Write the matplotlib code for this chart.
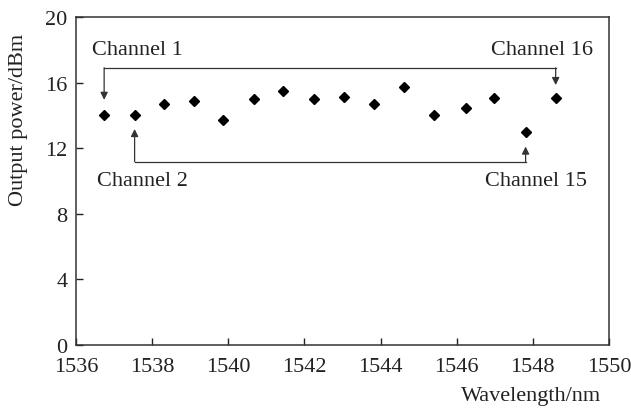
import matplotlib
matplotlib.use("Agg")
import matplotlib.pyplot as plt

# channel wavelengths (nm) and output power (dBm)
wavelength = [1536.74, 1537.54, 1538.31, 1539.10, 1539.87, 1540.67, 1541.45, 1542.25,
              1543.05, 1543.84, 1544.62, 1545.40, 1546.24, 1546.99, 1547.81, 1548.60]
power = [14.02, 14.00, 14.68, 14.86, 13.72, 15.00, 15.51, 15.00,
         15.14, 14.71, 15.71, 14.00, 14.45, 15.06, 12.97, 15.06]

x_ticks = [1536, 1538, 1540, 1542, 1544, 1546, 1548, 1550]
y_ticks = [0, 4, 8, 12, 16, 20]

plt.rcParams['font.family'] = ['Liberation Serif', 'DejaVu Serif']
plt.rcParams['font.size'] = 16

fig = plt.figure(figsize=(6.31, 4.10), dpi=100)
ax = fig.add_axes([0.1204, 0.1561, 0.8447, 0.8])

ax.plot(wavelength, power, linestyle='none', marker='D', markersize=5.2, color='black')

ax.set_xlim(1536, 1550)
ax.set_ylim(0, 20)
ax.set_xticks(x_ticks)
ax.set_yticks(y_ticks)
ax.tick_params(direction='in', length=5, width=1, colors='#222222', labelcolor='#222222')
ax.tick_params(axis='x', pad=8.5)
ax.tick_params(axis='y', pad=6)
for s in ax.spines.values():
    s.set_linewidth(1.1)
    s.set_color('#333333')

fig.text(19 / 631, 1 - 120 / 410, 'Output power/dBm', rotation=90, ha='center', va='center',
         color='#222222')
fig.text(601 / 631, 1 - 397 / 410, 'Wavelength/nm', ha='right', va='center', color='#222222')

# brackets linking channels 1/16 and 2/15
arrow = dict(arrowstyle='-|>', color='#333333', lw=0.9, mutation_scale=11, shrinkA=0, shrinkB=0)
top = 16.9
bottom = 11.18
ax.plot([wavelength[0], wavelength[15]], [top, top], color='#333333', lw=0.9)
ax.annotate('', xy=(wavelength[0], 14.95), xytext=(wavelength[0], top), arrowprops=arrow)
ax.annotate('', xy=(wavelength[15], 15.85), xytext=(wavelength[15], top), arrowprops=arrow)
ax.plot([wavelength[1], wavelength[14]], [bottom, bottom], color='#333333', lw=0.9)
ax.annotate('', xy=(wavelength[1], 13.17), xytext=(wavelength[1], bottom), arrowprops=arrow)
ax.annotate('', xy=(wavelength[14], 12.1), xytext=(wavelength[14], bottom), arrowprops=arrow)

ax.text(1536.42, 18.0, 'Channel 1', ha='left', va='center', color='#222222')
ax.text(1536.55, 10.0, 'Channel 2', ha='left', va='center', color='#222222')
ax.text(1550 - (609 - 593) / 38.07, 18.0, 'Channel 16', ha='right', va='center', color='#222222')
ax.text(1550 - (609 - 587) / 38.07, 10.05, 'Channel 15', ha='right', va='center', color='#222222')

fig.savefig('out.png', dpi=100)
